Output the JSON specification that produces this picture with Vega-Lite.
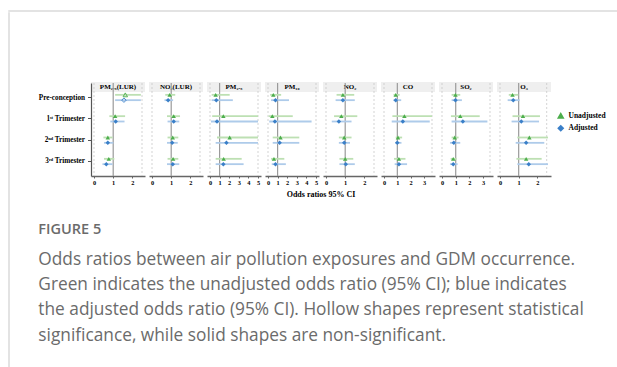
{
  "$schema": "https://vega.github.io/schema/vega-lite/v6.json",
  "padding": {"left": 8, "top": 10, "right": 0, "bottom": 0},
  "background": "white",
  "config": {
    "view": {"stroke": null},
    "font": "Liberation Serif",
    "axis": {"labelFont": "Liberation Serif", "labelFontWeight": "bold", "labelColor": "#000", "domainColor": "#666", "tickColor": "#666", "grid": false, "title": null},
    "axisX": {"labelFontSize": 6.3, "tickSize": 2, "labelPadding": 1, "domainWidth": 1.3, "labelOverlap": false, "labelFlush": false, "format": "d"},
    "axisY": {"labelFontSize": 7.2, "tickSize": 3.5, "labelPadding": 3, "domainWidth": 1.2, "domainColor": "#555", "tickColor": "#555"}
  },
  "datasets": {
    "panels": [
      {"panel": "PM₂.₅(LUR)"}, {"panel": "NO₂(LUR)"}, {"panel": "PM₂.₅"}, {"panel": "PM₁₀"},
      {"panel": "NO₂"}, {"panel": "CO"}, {"panel": "SO₂"}, {"panel": "O₃"}
    ],
    "or": [
      {"panel": "PM₂.₅(LUR)", "kind": "lim", "x": 0}, {"panel": "PM₂.₅(LUR)", "kind": "lim", "x": 2.5}, {"panel": "PM₂.₅(LUR)", "kind": "ref", "x": 1},
      {"panel": "NO₂(LUR)", "kind": "lim", "x": 0}, {"panel": "NO₂(LUR)", "kind": "lim", "x": 2.5}, {"panel": "NO₂(LUR)", "kind": "ref", "x": 1},
      {"panel": "PM₂.₅", "kind": "lim", "x": 0}, {"panel": "PM₂.₅", "kind": "lim", "x": 5}, {"panel": "PM₂.₅", "kind": "ref", "x": 1},
      {"panel": "PM₁₀", "kind": "lim", "x": 0}, {"panel": "PM₁₀", "kind": "lim", "x": 5}, {"panel": "PM₁₀", "kind": "ref", "x": 1},
      {"panel": "NO₂", "kind": "lim", "x": 0}, {"panel": "NO₂", "kind": "lim", "x": 2.5}, {"panel": "NO₂", "kind": "ref", "x": 1},
      {"panel": "CO", "kind": "lim", "x": 0}, {"panel": "CO", "kind": "lim", "x": 3.6}, {"panel": "CO", "kind": "ref", "x": 1},
      {"panel": "SO₂", "kind": "lim", "x": 0}, {"panel": "SO₂", "kind": "lim", "x": 3.5}, {"panel": "SO₂", "kind": "ref", "x": 1},
      {"panel": "O₃", "kind": "lim", "x": 0}, {"panel": "O₃", "kind": "lim", "x": 2.5}, {"panel": "O₃", "kind": "ref", "x": 1},

      {"panel": "PM₂.₅(LUR)", "kind": "est", "period": "Pre-conception", "type": "Unadjusted", "or": 1.63, "lo": 1.10, "hi": 2.44, "sig": true},
      {"panel": "PM₂.₅(LUR)", "kind": "est", "period": "Pre-conception", "type": "Adjusted", "or": 1.56, "lo": 1.10, "hi": 2.44, "sig": true},
      {"panel": "PM₂.₅(LUR)", "kind": "est", "period": "1ˢᵗ Trimester", "type": "Unadjusted", "or": 1.10, "lo": 0.80, "hi": 1.62, "sig": false},
      {"panel": "PM₂.₅(LUR)", "kind": "est", "period": "1ˢᵗ Trimester", "type": "Adjusted", "or": 1.13, "lo": 0.85, "hi": 1.59, "sig": false},
      {"panel": "PM₂.₅(LUR)", "kind": "est", "period": "2ⁿᵈ Trimester", "type": "Unadjusted", "or": 0.72, "lo": 0.49, "hi": 0.97, "sig": false},
      {"panel": "PM₂.₅(LUR)", "kind": "est", "period": "2ⁿᵈ Trimester", "type": "Adjusted", "or": 0.72, "lo": 0.52, "hi": 1.01, "sig": false},
      {"panel": "PM₂.₅(LUR)", "kind": "est", "period": "3ʳᵈ Trimester", "type": "Unadjusted", "or": 0.77, "lo": 0.52, "hi": 1.06, "sig": false},
      {"panel": "PM₂.₅(LUR)", "kind": "est", "period": "3ʳᵈ Trimester", "type": "Adjusted", "or": 0.64, "lo": 0.44, "hi": 0.97, "sig": false},

      {"panel": "NO₂(LUR)", "kind": "est", "period": "Pre-conception", "type": "Unadjusted", "or": 0.92, "lo": 0.69, "hi": 1.21, "sig": false},
      {"panel": "NO₂(LUR)", "kind": "est", "period": "Pre-conception", "type": "Adjusted", "or": 0.84, "lo": 0.65, "hi": 1.10, "sig": false},
      {"panel": "NO₂(LUR)", "kind": "est", "period": "1ˢᵗ Trimester", "type": "Unadjusted", "or": 1.13, "lo": 0.78, "hi": 1.46, "sig": false},
      {"panel": "NO₂(LUR)", "kind": "est", "period": "1ˢᵗ Trimester", "type": "Adjusted", "or": 1.13, "lo": 0.81, "hi": 1.42, "sig": false},
      {"panel": "NO₂(LUR)", "kind": "est", "period": "2ⁿᵈ Trimester", "type": "Unadjusted", "or": 1.08, "lo": 0.81, "hi": 1.37, "sig": false},
      {"panel": "NO₂(LUR)", "kind": "est", "period": "2ⁿᵈ Trimester", "type": "Adjusted", "or": 1.05, "lo": 0.78, "hi": 1.34, "sig": false},
      {"panel": "NO₂(LUR)", "kind": "est", "period": "3ʳᵈ Trimester", "type": "Unadjusted", "or": 1.10, "lo": 0.81, "hi": 1.37, "sig": false},
      {"panel": "NO₂(LUR)", "kind": "est", "period": "3ʳᵈ Trimester", "type": "Adjusted", "or": 1.08, "lo": 0.78, "hi": 1.42, "sig": false},

      {"panel": "PM₂.₅", "kind": "est", "period": "Pre-conception", "type": "Unadjusted", "or": 0.59, "lo": 0.17, "hi": 2.05, "sig": false},
      {"panel": "PM₂.₅", "kind": "est", "period": "Pre-conception", "type": "Adjusted", "or": 0.66, "lo": 0.17, "hi": 2.38, "sig": false},
      {"panel": "PM₂.₅", "kind": "est", "period": "1ˢᵗ Trimester", "type": "Unadjusted", "or": 1.39, "lo": 0.23, "hi": 5.0, "sig": false},
      {"panel": "PM₂.₅", "kind": "est", "period": "1ˢᵗ Trimester", "type": "Adjusted", "or": 0.73, "lo": 0.10, "hi": 5.0, "sig": false},
      {"panel": "PM₂.₅", "kind": "est", "period": "2ⁿᵈ Trimester", "type": "Unadjusted", "or": 2.05, "lo": 0.73, "hi": 5.0, "sig": false},
      {"panel": "PM₂.₅", "kind": "est", "period": "2ⁿᵈ Trimester", "type": "Adjusted", "or": 1.71, "lo": 0.59, "hi": 5.0, "sig": false},
      {"panel": "PM₂.₅", "kind": "est", "period": "3ʳᵈ Trimester", "type": "Unadjusted", "or": 1.42, "lo": 0.59, "hi": 3.3, "sig": false},
      {"panel": "PM₂.₅", "kind": "est", "period": "3ʳᵈ Trimester", "type": "Adjusted", "or": 1.39, "lo": 0.59, "hi": 3.5, "sig": false},

      {"panel": "PM₁₀", "kind": "est", "period": "Pre-conception", "type": "Unadjusted", "or": 0.55, "lo": 0.22, "hi": 1.37, "sig": false},
      {"panel": "PM₁₀", "kind": "est", "period": "Pre-conception", "type": "Adjusted", "or": 0.78, "lo": 0.32, "hi": 2.19, "sig": false},
      {"panel": "PM₁₀", "kind": "est", "period": "1ˢᵗ Trimester", "type": "Unadjusted", "or": 0.45, "lo": 0.06, "hi": 2.58, "sig": false},
      {"panel": "PM₁₀", "kind": "est", "period": "1ˢᵗ Trimester", "type": "Adjusted", "or": 0.72, "lo": 0.13, "hi": 4.54, "sig": false},
      {"panel": "PM₁₀", "kind": "est", "period": "2ⁿᵈ Trimester", "type": "Unadjusted", "or": 1.30, "lo": 0.49, "hi": 3.26, "sig": false},
      {"panel": "PM₁₀", "kind": "est", "period": "2ⁿᵈ Trimester", "type": "Adjusted", "or": 1.21, "lo": 0.49, "hi": 3.26, "sig": false},
      {"panel": "PM₁₀", "kind": "est", "period": "3ʳᵈ Trimester", "type": "Unadjusted", "or": 0.62, "lo": 0.32, "hi": 1.70, "sig": false},
      {"panel": "PM₁₀", "kind": "est", "period": "3ʳᵈ Trimester", "type": "Adjusted", "or": 0.78, "lo": 0.39, "hi": 1.86, "sig": false},

      {"panel": "NO₂", "kind": "est", "period": "Pre-conception", "type": "Unadjusted", "or": 0.88, "lo": 0.55, "hi": 1.47, "sig": false},
      {"panel": "NO₂", "kind": "est", "period": "Pre-conception", "type": "Adjusted", "or": 0.88, "lo": 0.50, "hi": 1.50, "sig": false},
      {"panel": "NO₂", "kind": "est", "period": "1ˢᵗ Trimester", "type": "Unadjusted", "or": 0.80, "lo": 0.42, "hi": 1.63, "sig": false},
      {"panel": "NO₂", "kind": "est", "period": "1ˢᵗ Trimester", "type": "Adjusted", "or": 0.67, "lo": 0.30, "hi": 1.33, "sig": false},
      {"panel": "NO₂", "kind": "est", "period": "2ⁿᵈ Trimester", "type": "Unadjusted", "or": 0.95, "lo": 0.67, "hi": 1.33, "sig": false},
      {"panel": "NO₂", "kind": "est", "period": "2ⁿᵈ Trimester", "type": "Adjusted", "or": 0.95, "lo": 0.67, "hi": 1.25, "sig": false},
      {"panel": "NO₂", "kind": "est", "period": "3ʳᵈ Trimester", "type": "Unadjusted", "or": 1.00, "lo": 0.70, "hi": 1.42, "sig": false},
      {"panel": "NO₂", "kind": "est", "period": "3ʳᵈ Trimester", "type": "Adjusted", "or": 1.03, "lo": 0.70, "hi": 1.50, "sig": false},

      {"panel": "CO", "kind": "est", "period": "Pre-conception", "type": "Unadjusted", "or": 0.88, "lo": 0.71, "hi": 1.17, "sig": false},
      {"panel": "CO", "kind": "est", "period": "Pre-conception", "type": "Adjusted", "or": 0.88, "lo": 0.71, "hi": 1.29, "sig": false},
      {"panel": "CO", "kind": "est", "period": "1ˢᵗ Trimester", "type": "Unadjusted", "or": 1.53, "lo": 0.63, "hi": 3.6, "sig": false},
      {"panel": "CO", "kind": "est", "period": "1ˢᵗ Trimester", "type": "Adjusted", "or": 1.41, "lo": 0.58, "hi": 3.43, "sig": false},
      {"panel": "CO", "kind": "est", "period": "2ⁿᵈ Trimester", "type": "Unadjusted", "or": 1.05, "lo": 0.88, "hi": 1.36, "sig": false},
      {"panel": "CO", "kind": "est", "period": "2ⁿᵈ Trimester", "type": "Adjusted", "or": 1.00, "lo": 0.83, "hi": 1.31, "sig": false},
      {"panel": "CO", "kind": "est", "period": "3ʳᵈ Trimester", "type": "Unadjusted", "or": 1.12, "lo": 0.75, "hi": 1.61, "sig": false},
      {"panel": "CO", "kind": "est", "period": "3ʳᵈ Trimester", "type": "Adjusted", "or": 1.12, "lo": 0.80, "hi": 1.73, "sig": false},

      {"panel": "SO₂", "kind": "est", "period": "Pre-conception", "type": "Unadjusted", "or": 0.98, "lo": 0.70, "hi": 1.33, "sig": false},
      {"panel": "SO₂", "kind": "est", "period": "Pre-conception", "type": "Adjusted", "or": 0.98, "lo": 0.70, "hi": 1.45, "sig": false},
      {"panel": "SO₂", "kind": "est", "period": "1ˢᵗ Trimester", "type": "Unadjusted", "or": 1.33, "lo": 0.65, "hi": 2.75, "sig": false},
      {"panel": "SO₂", "kind": "est", "period": "1ˢᵗ Trimester", "type": "Adjusted", "or": 1.52, "lo": 0.70, "hi": 3.31, "sig": false},
      {"panel": "SO₂", "kind": "est", "period": "2ⁿᵈ Trimester", "type": "Unadjusted", "or": 0.93, "lo": 0.70, "hi": 1.21, "sig": false},
      {"panel": "SO₂", "kind": "est", "period": "2ⁿᵈ Trimester", "type": "Adjusted", "or": 0.86, "lo": 0.58, "hi": 1.33, "sig": false},
      {"panel": "SO₂", "kind": "est", "period": "3ʳᵈ Trimester", "type": "Unadjusted", "or": 0.82, "lo": 0.63, "hi": 1.07, "sig": false},
      {"panel": "SO₂", "kind": "est", "period": "3ʳᵈ Trimester", "type": "Adjusted", "or": 0.82, "lo": 0.58, "hi": 1.14, "sig": false},

      {"panel": "O₃", "kind": "est", "period": "Pre-conception", "type": "Unadjusted", "or": 0.67, "lo": 0.47, "hi": 0.98, "sig": false},
      {"panel": "O₃", "kind": "est", "period": "Pre-conception", "type": "Adjusted", "or": 0.71, "lo": 0.41, "hi": 1.05, "sig": false},
      {"panel": "O₃", "kind": "est", "period": "1ˢᵗ Trimester", "type": "Unadjusted", "or": 1.23, "lo": 0.67, "hi": 2.14, "sig": false},
      {"panel": "O₃", "kind": "est", "period": "1ˢᵗ Trimester", "type": "Adjusted", "or": 1.14, "lo": 0.62, "hi": 2.09, "sig": false},
      {"panel": "O₃", "kind": "est", "period": "2ⁿᵈ Trimester", "type": "Unadjusted", "or": 1.57, "lo": 0.93, "hi": 2.57, "sig": false},
      {"panel": "O₃", "kind": "est", "period": "2ⁿᵈ Trimester", "type": "Adjusted", "or": 1.40, "lo": 0.84, "hi": 2.37, "sig": false},
      {"panel": "O₃", "kind": "est", "period": "3ʳᵈ Trimester", "type": "Unadjusted", "or": 1.40, "lo": 0.88, "hi": 2.23, "sig": false},
      {"panel": "O₃", "kind": "est", "period": "3ʳᵈ Trimester", "type": "Adjusted", "or": 1.54, "lo": 0.93, "hi": 2.57, "sig": false}
    ]
  },
  "resolve": {"legend": {"color": "independent", "shape": "independent"}},
  "spacing": 0,
  "vconcat": [
    {"data": {"values": []}, "mark": "point", "width": 609, "height": 0.01, "view": {"stroke": "#dadada", "strokeWidth": 1.5}},
    {
      "spacing": 81,
      "bounds": "flush",
      "resolve": {"legend": {"color": "independent", "shape": "independent"}},
      "hconcat": [
        {"data": {"values": []}, "mark": "point", "width": 0.01, "height": 357, "view": {"stroke": "#dadada", "strokeWidth": 1.5}},
        {
          "spacing": 1,
          "bounds": "flush",
          "resolve": {"legend": {"color": "independent", "shape": "independent"}},
          "title": {
            "text": "FIGURE 5",
            "subtitle": [
              "Odds ratios between air pollution exposures and GDM occurrence.",
              "Green indicates the unadjusted odds ratio (95% CI); blue indicates",
              "the adjusted odds ratio (95% CI). Hollow shapes represent statistical",
              "significance, while solid shapes are non-significant."
            ],
            "orient": "bottom", "anchor": "start", "frame": "bounds",
            "font": "Open Sans", "fontSize": 14.5, "fontWeight": 600, "color": "#6b6b6b",
            "subtitleFont": "Open Sans", "subtitleFontSize": 17.3, "subtitleColor": "#6b6b6b",
            "subtitleLineHeight": 25.3, "subtitlePadding": 13, "offset": 24
          },
          "vconcat": [
            {"data": {"values": []}, "mark": "point", "width": 10, "height": 68},
            {
              "data": {"name": "panels"},
              "facet": {"column": {"field": "panel", "type": "nominal", "sort": ["PM₂.₅(LUR)", "NO₂(LUR)", "PM₂.₅", "PM₁₀", "NO₂", "CO", "SO₂", "O₃"], "header": null}},
              "spacing": 4,
              "spec": {
                "width": 54, "height": 10,
                "view": {"fill": "#efefef", "stroke": null},
                "mark": {"type": "text", "font": "Liberation Serif", "fontWeight": "bold", "fontSize": 7, "baseline": "middle", "color": "#000"},
                "encoding": {"text": {"field": "panel", "type": "nominal"}}
              }
            },
            {
              "data": {"name": "or"},
              "facet": {"column": {"field": "panel", "type": "nominal", "sort": ["PM₂.₅(LUR)", "NO₂(LUR)", "PM₂.₅", "PM₁₀", "NO₂", "CO", "SO₂", "O₃"], "header": null}},
              "spacing": 4,
              "resolve": {"scale": {"x": "independent"}},
              "title": {"text": "Odds ratios 95% CI", "orient": "bottom", "anchor": "middle", "frame": "group", "dx": 230, "font": "Liberation Serif", "fontWeight": "bold", "fontSize": 8, "offset": 6, "color": "#000"},
              "spec": {
                "width": 54, "height": 93,
                "layer": [
                  {
                    "transform": [{"filter": "datum.kind === 'lim'"}],
                    "mark": {"type": "rule", "color": "#c8c8c8", "strokeDash": [2, 2], "strokeWidth": 0.8},
                    "encoding": {"x": {"field": "x", "type": "quantitative", "scale": {"nice": false, "zero": false, "padding": 3}, "axis": {"values": [0, 1, 2, 3, 4, 5], "format": "d"}}}
                  },
                  {
                    "transform": [{"filter": "datum.kind === 'ref'"}],
                    "mark": {"type": "rule", "color": "#9a9a9a", "strokeWidth": 1.2},
                    "encoding": {"x": {"field": "x", "type": "quantitative", "axis": {"values": [0, 1, 2, 3, 4, 5], "format": "d"}}}
                  },
                  {
                    "transform": [{"filter": "datum.kind === 'est'"}],
                    "mark": {"type": "rule", "strokeWidth": 1.8},
                    "encoding": {
                      "x": {"field": "lo", "type": "quantitative", "axis": {"values": [0, 1, 2, 3, 4, 5], "format": "d"}},
                      "x2": {"field": "hi"},
                      "y": {"field": "period", "type": "nominal", "sort": ["Pre-conception", "1ˢᵗ Trimester", "2ⁿᵈ Trimester", "3ʳᵈ Trimester"], "scale": {"type": "band", "paddingInner": 0, "paddingOuter": 0.18}},
                      "yOffset": {"field": "type", "type": "nominal", "sort": ["Unadjusted", "Adjusted"], "scale": {"paddingInner": 0, "paddingOuter": 1.42}},
                      "stroke": {"field": "type", "type": "nominal", "scale": {"domain": ["Unadjusted", "Adjusted"], "range": ["#bde0b3", "#aecbea"]}, "legend": null}
                    }
                  },
                  {
                    "transform": [{"filter": "datum.kind === 'est' && !datum.sig"}],
                    "mark": {"type": "point", "filled": true, "size": 20, "opacity": 1},
                    "encoding": {
                      "x": {"field": "or", "type": "quantitative", "axis": {"values": [0, 1, 2, 3, 4, 5], "format": "d"}},
                      "y": {"field": "period", "type": "nominal", "sort": ["Pre-conception", "1ˢᵗ Trimester", "2ⁿᵈ Trimester", "3ʳᵈ Trimester"]},
                      "yOffset": {"field": "type", "type": "nominal", "sort": ["Unadjusted", "Adjusted"]},
                      "color": {"field": "type", "type": "nominal", "scale": {"domain": ["Unadjusted", "Adjusted"], "range": ["#4cae4c", "#3a7fc8"]},
                        "legend": {"title": null, "orient": "none", "legendX": 466, "legendY": 29, "labelFont": "Liberation Serif", "labelFontWeight": "bold", "labelFontSize": 7.5, "labelColor": "#000", "symbolSize": 25, "rowPadding": 1.5}},
                      "shape": {"field": "type", "type": "nominal", "scale": {"domain": ["Unadjusted", "Adjusted"], "range": ["triangle-up", "diamond"]},
                        "legend": {"title": null, "orient": "none", "legendX": 466, "legendY": 29, "labelFont": "Liberation Serif", "labelFontWeight": "bold", "labelFontSize": 7.5, "labelColor": "#000", "symbolSize": 25, "rowPadding": 1.5}}
                    }
                  },
                  {
                    "transform": [{"filter": "datum.kind === 'est' && datum.sig"}],
                    "mark": {"type": "point", "filled": false, "size": 20, "strokeWidth": 0.9, "opacity": 1},
                    "encoding": {
                      "x": {"field": "or", "type": "quantitative", "axis": {"values": [0, 1, 2, 3, 4, 5], "format": "d"}},
                      "y": {"field": "period", "type": "nominal", "sort": ["Pre-conception", "1ˢᵗ Trimester", "2ⁿᵈ Trimester", "3ʳᵈ Trimester"]},
                      "yOffset": {"field": "type", "type": "nominal", "sort": ["Unadjusted", "Adjusted"]},
                      "color": {"field": "type", "type": "nominal"},
                      "shape": {"field": "type", "type": "nominal"}
                    }
                  }
                ]
              }
            }
          ]
        }
      ]
    }
  ]
}
